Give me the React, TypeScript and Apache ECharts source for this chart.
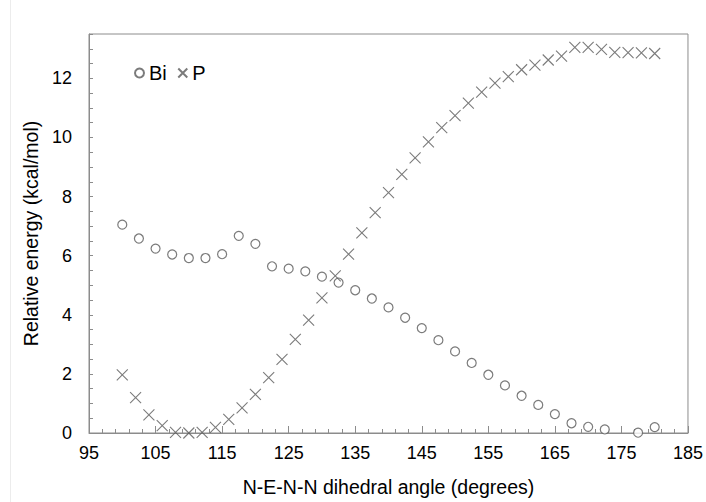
import React, { useEffect, useRef } from "react";
import * as echarts from "echarts";

const biAngles = [100, 102.5, 105, 107.5, 110, 112.5, 115, 117.5, 120, 122.5, 125, 127.5, 130, 132.5, 135, 137.5, 140, 142.5, 145, 147.5, 150, 152.5, 155, 157.5, 160, 162.5, 165, 167.5, 170, 172.5, 177.5, 180];
const biEnergy = [7.05, 6.58, 6.24, 6.04, 5.92, 5.92, 6.05, 6.67, 6.4, 5.64, 5.56, 5.47, 5.29, 5.09, 4.83, 4.55, 4.25, 3.9, 3.55, 3.14, 2.76, 2.37, 1.97, 1.61, 1.26, 0.95, 0.64, 0.33, 0.21, 0.12, 0.01, 0.2];

const pAngles = [100, 102, 104, 106, 108, 110, 112, 114, 116, 118, 120, 122, 124, 126, 128, 130, 132, 134, 136, 138, 140, 142, 144, 146, 148, 150, 152, 154, 156, 158, 160, 162, 164, 166, 168, 170, 172, 174, 176, 178, 180];
const pEnergy = [1.97, 1.2, 0.61, 0.25, 0.02, 0.0, 0.02, 0.19, 0.46, 0.85, 1.31, 1.87, 2.49, 3.17, 3.82, 4.57, 5.32, 6.05, 6.77, 7.46, 8.13, 8.75, 9.31, 9.85, 10.33, 10.74, 11.16, 11.53, 11.84, 12.06, 12.29, 12.45, 12.62, 12.75, 13.05, 13.05, 12.98, 12.88, 12.87, 12.86, 12.84];

const xMin = 95;
const xMax = 185;
const yMin = 0;
const yMax = 13.5;

const FONT = "Liberation Sans, Arial, sans-serif";
const AXIS_COLOR = "#8c8c8c";
const MARK_COLOR = "#5a5a5a";

export default function App() {
  const ref = useRef<HTMLDivElement>(null);
  useEffect(() => {
    if (!ref.current) return;
    const chart = echarts.init(ref.current, undefined, { renderer: "svg" });
    const biData = biAngles.map((a, i) => [a, biEnergy[i]]);
    const pData = pAngles.map((a, i) => [a, pEnergy[i]]);
    chart.setOption({
      animation: false,
      backgroundColor: "#fff",
      textStyle: { fontFamily: FONT },
      graphic: [
        {
          type: "line",
          shape: { x1: 10.5, y1: 0, x2: 10.5, y2: 502 },
          style: { stroke: "#ececec", lineWidth: 1 },
        },
      ],
      grid: {
        left: 89,
        right: 18,
        top: 34,
        bottom: 69,
        show: true,
        borderColor: AXIS_COLOR,
        borderWidth: 1,
        backgroundColor: "transparent",
      },
      legend: {
        data: ["Bi", "P"],
        left: 129,
        top: 58,
        itemWidth: 9,
        itemHeight: 9,
        itemGap: 9,
        textStyle: { fontSize: 20, color: "#000", fontFamily: FONT },
      },
      xAxis: [
        {
          type: "value",
          min: xMin,
          max: xMax,
          position: "bottom",
          show: false,
          splitLine: { show: false },
        },
        {
          type: "value",
          min: 0,
          max: xMax - xMin,
          interval: 10,
          position: "bottom",
          axisLine: { show: true, onZero: false, lineStyle: { color: AXIS_COLOR, width: 1 } },
          axisTick: { show: true, inside: true, length: 7, lineStyle: { color: AXIS_COLOR } },
          minorTick: { show: true, splitNumber: 5, length: 4, lineStyle: { color: AXIS_COLOR } },
          splitLine: { show: false },
          minorSplitLine: { show: false },
          axisLabel: {
            formatter: (v: number) => String(v + xMin),
            fontSize: 18,
            color: "#000",
            margin: 11,
            fontFamily: FONT,
          },
          name: "N-E-N-N dihedral angle (degrees)",
          nameLocation: "middle",
          nameGap: 44,
          nameTextStyle: { fontSize: 19.5, color: "#000", fontFamily: FONT },
        },
      ],
      yAxis: {
        type: "value",
        min: yMin,
        max: yMax,
        interval: 0.5,
        axisLine: { show: true, onZero: false, lineStyle: { color: AXIS_COLOR, width: 1 } },
        axisTick: { show: true, inside: true, length: 4, lineStyle: { color: AXIS_COLOR } },
        splitLine: { show: false },
        axisLabel: {
          formatter: (v: number) => (Math.abs(v / 2 - Math.round(v / 2)) < 1e-9 ? String(v) : ""),
          fontSize: 18,
          color: "#000",
          margin: 17,
          fontFamily: FONT,
        },
        name: "Relative energy (kcal/mol)",
        nameLocation: "middle",
        nameGap: 47,
        nameTextStyle: { fontSize: 19.5, color: "#000", fontFamily: FONT },
      },
      series: [
        {
          name: "Bi",
          type: "scatter",
          xAxisIndex: 0,
          data: biData,
          symbol: "circle",
          symbolSize: 9,
          itemStyle: { color: "#fff", borderColor: MARK_COLOR, borderWidth: 1.2 },
        },
        {
          name: "P",
          type: "scatter",
          xAxisIndex: 0,
          data: pData,
          symbol: "path://M0,0L10,10M10,0L0,10",
          symbolSize: 11,
          itemStyle: { color: "none", borderColor: MARK_COLOR, borderWidth: 1.1 },
        },
      ],
    });
    return () => chart.dispose();
  }, []);
  return (
    <div
      ref={ref}
      style={{ position: "absolute", left: 0, top: 0, width: 706, height: 502, background: "#fff" }}
    />
  );
}
